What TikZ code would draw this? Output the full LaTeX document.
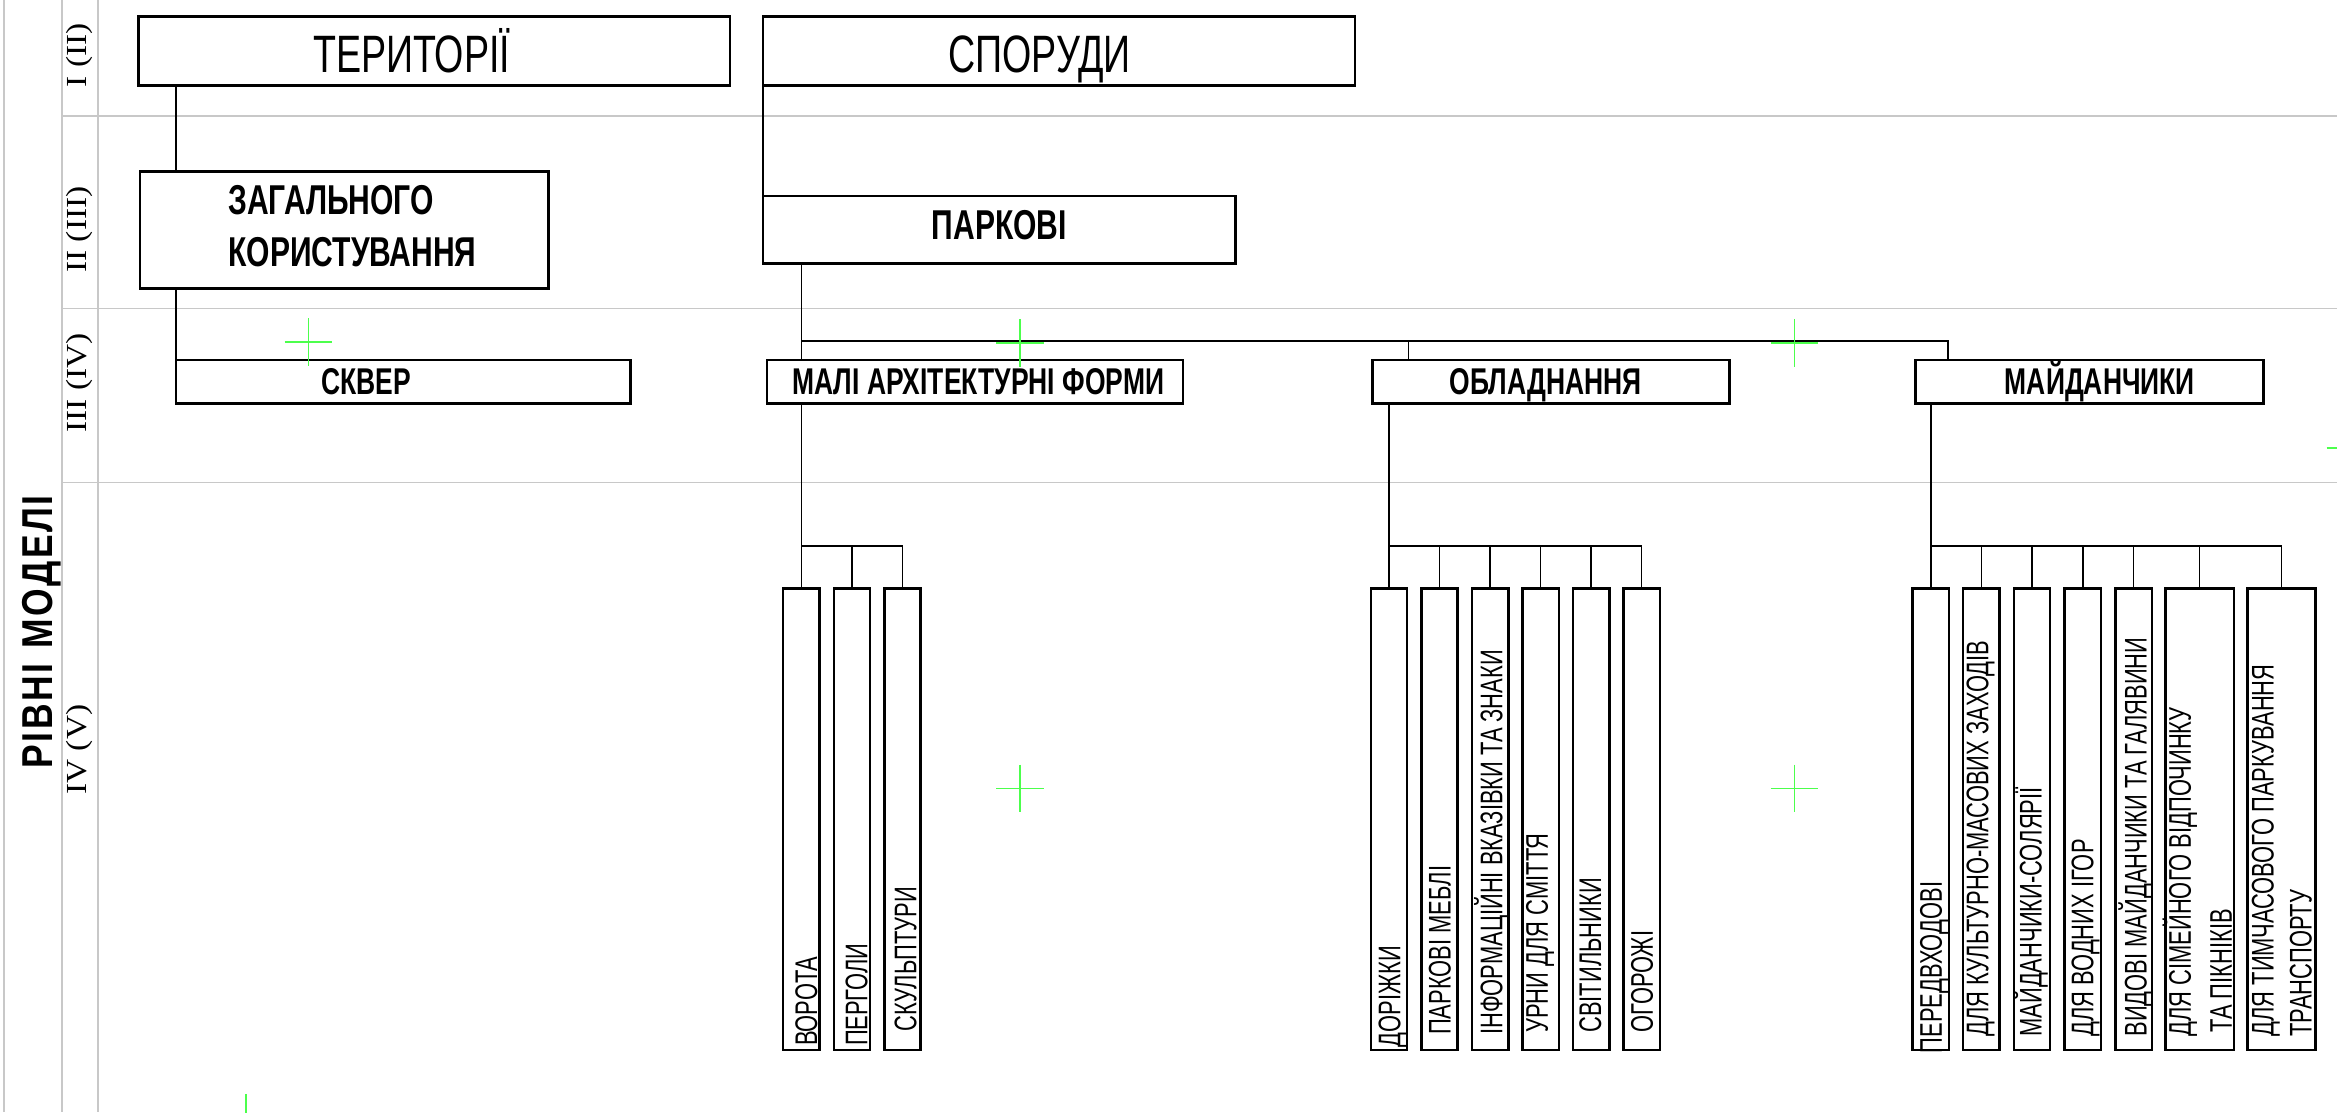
\documentclass[tikz,border=0pt]{standalone}
\usepackage{fontspec}
\setmainfont{Liberation Sans}
\newfontfamily\fTop[FakeStretch=0.715]{Liberation Sans}
\newfontfamily\fMid[FakeStretch=0.72]{Liberation Sans}
\newfontfamily\fLow[FakeStretch=0.71]{Liberation Sans}
\newfontfamily\fVer[FakeStretch=0.70]{Liberation Sans}
\newfontfamily\fSide[FakeStretch=0.82]{Liberation Sans}
\newfontfamily\fRom[FakeStretch=1.15]{Liberation Serif}
\definecolor{gridgray}{HTML}{C8C8C8}
\definecolor{crossgreen}{HTML}{4CFF4C}
\newcommand{\ls}{\hspace{1.7pt}}
\tikzset{
  boxs/.style={draw, line width=1.7pt, inner sep=0pt, outer sep=0pt, anchor=north west},
  vbox/.style={draw, line width=1.7pt, inner sep=0pt, outer sep=0pt, anchor=north, minimum height=309.8pt},
  conn/.style={line width=1.0pt},
  gridln/.style={draw=gridgray, line width=1.1pt},
  gcross/.style={draw=crossgreen, line width=1.2pt},
  toptxt/.style={anchor=base west, inner sep=0pt, font=\fTop\fontsize{35.3}{40}\selectfont},
  midtxt/.style={inner sep=0pt, font=\fMid\bfseries\fontsize{28}{32}\selectfont},
  lowtxt/.style={inner sep=0pt, font=\fLow\bfseries\fontsize{25}{30}\selectfont},
  vtxt/.style={rotate=90, anchor=base west, inner sep=0pt, font=\fVer\fontsize{21}{25}\selectfont},
  romtxt/.style={rotate=90, anchor=base, inner sep=0pt, font=\fRom\fontsize{19.5}{22}\selectfont},
}
\begin{document}
\begin{tikzpicture}[x=1pt,y=-1pt]
\useasboundingbox[fill=white] (0,0) rectangle (1568,746.1);
% grid
\draw[gridln] (2.7,0) -- (2.7,746.1);
\draw[gridln] (41.8,0) -- (41.8,746.1);
\draw[gridln] (65.8,0) -- (65.8,746.1);
\draw[gridln] (41.8,78) -- (1568,78);
\draw[gridln] (41.8,207) -- (1568,207);
\draw[gridln] (41.8,323.8) -- (1568,323.8);
% side labels
\node[rotate=90, anchor=base, inner sep=0pt, font=\fSide\bfseries\fontsize{29}{34}\selectfont] (side) at (35.5,424) {Р\ls І\ls В\ls Н\ls І\ls\ \ls М\ls О\ls Д\ls Е\ls Л\ls І};
\node[romtxt] (r1) at (58,37) {I (II)};
\node[romtxt] (r2) at (58,154) {II (III)};
\node[romtxt] (r3) at (58,257) {III (IV)};
\node[romtxt] (r4) at (58,503) {IV (V)};
% level I
\node[boxs, minimum width=396.8pt, minimum height=46.3pt] (ter) at (93,11.2) {};
\node[boxs, minimum width=397pt, minimum height=46.3pt] (spo) at (512,11.2) {};
\node[toptxt] (terT) at (210,48.5) {ТЕРИТОРІЇ};
\node[toptxt] (spoT) at (636,48.5) {СПОРУДИ};
% level II
\node[boxs, minimum width=274pt, minimum height=78.5pt] (zag) at (94,115) {};
\node[boxs, minimum width=317pt, minimum height=45.2pt] (par) at (512,131.5) {};
\node[midtxt, anchor=base west] (zagT1) at (153,144) {ЗАГАЛЬНОГО};
\node[midtxt, anchor=base west] (zagT2) at (153,179) {КОРИСТУВАННЯ};
\node[midtxt, anchor=base] (parT) at (670.5,161) {ПАРКОВІ};
% level III
\node[boxs, minimum width=305pt, minimum height=29pt] (skv) at (118,241.6) {};
\node[boxs, minimum width=279.2pt, minimum height=29pt] (maf) at (514.6,241.6) {};
\node[boxs, minimum width=239.5pt, minimum height=29pt] (obl) at (921,241.6) {};
\node[boxs, minimum width=233.5pt, minimum height=29pt] (mai) at (1285,241.6) {};
\node[lowtxt, anchor=base] (skvT) at (245.5,264.5) {СКВЕР};
\node[lowtxt, anchor=base west] (mafT) at (531.5,265) {МАЛІ АРХІТЕКТУРНІ ФОРМИ};
\node[lowtxt, anchor=base west] (oblT) at (972.6,265) {ОБЛАДНАННЯ};
\node[lowtxt, anchor=base west] (maiT) at (1345,265) {МАЙДАНЧИКИ};
% level IV boxes
\node[vbox, minimum width=24.3pt] (vA1) at (537.6,394.7) {};
\node[vbox, minimum width=24.3pt] (vA2) at (571.7,394.7) {};
\node[vbox, minimum width=24.3pt] (vA3) at (605.6,394.7) {};
\node[vbox, minimum width=24.3pt] (vB1) at (932,394.7) {};
\node[vbox, minimum width=24.3pt] (vB2) at (965.9,394.7) {};
\node[vbox, minimum width=24.3pt] (vB3) at (999.8,394.7) {};
\node[vbox, minimum width=24.3pt] (vB4) at (1033.7,394.7) {};
\node[vbox, minimum width=24.3pt] (vB5) at (1067.6,394.7) {};
\node[vbox, minimum width=24.3pt] (vB6) at (1101.5,394.7) {};
\node[vbox, minimum width=24.5pt] (vC1) at (1295.5,394.7) {};
\node[vbox, minimum width=24.3pt] (vC2) at (1329.3,394.7) {};
\node[vbox, minimum width=24.3pt] (vC3) at (1363.3,394.7) {};
\node[vbox, minimum width=24.3pt] (vC4) at (1397.4,394.7) {};
\node[vbox, minimum width=24.4pt] (vC5) at (1431.5,394.7) {};
\node[vbox, minimum width=45.9pt] (vC6) at (1475.8,394.7) {};
\node[vbox, minimum width=45.6pt] (vC7) at (1530.9,394.7) {};
% level IV texts
\node[vtxt] (tA1) at (548.2,702) {ВОРОТА};
\node[vtxt] (tA2) at (582,702) {ПЕРГОЛИ};
\node[vtxt] (tA3) at (614.8,692) {СКУЛЬПТУРИ};
\node[vtxt] (tB1) at (939.5,703) {ДОРІЖКИ};
\node[vtxt] (tB2) at (973.3,694.5) {ПАРКОВІ МЕБЛІ};
\node[vtxt] (tB3) at (1008,694.5) {ІНФОРМАЦІЙНІ ВКАЗІВКИ ТА ЗНАКИ};
\node[vtxt] (tB4) at (1038.5,693) {УРНИ ДЛЯ СМІТТЯ};
\node[vtxt] (tB5) at (1074.2,693) {СВІТИЛЬНИКИ};
\node[vtxt] (tB6) at (1108.9,693) {ОГОРОЖІ};
\node[vtxt] (tC1) at (1302.8,706.7) {ПЕРЕДВХОДОВІ};
\node[vtxt] (tC2) at (1334,695.6) {ДЛЯ КУЛЬТУРНО-МАСОВИХ ЗАХОДІВ};
\node[vtxt] (tC3) at (1369.8,695.6) {МАЙДАНЧИКИ-СОЛЯРІЇ};
\node[vtxt] (tC4) at (1404.5,695.6) {ДЛЯ ВОДНИХ ІГОР};
\node[vtxt] (tC5) at (1440.3,695.6) {ВИДОВІ МАЙДАНЧИКИ ТА ГАЛЯВИНИ};
\node[vtxt] (tC6a) at (1470,695.6) {ДЛЯ СІМЕЙНОГО ВІДПОЧИНКУ};
\node[vtxt] (tC6b) at (1497.4,693) {ТА ПІКНІКІВ};
\node[vtxt] (tC7a) at (1525.5,695.6) {ДЛЯ ТИМЧАСОВОГО ПАРКУВАННЯ};
\node[vtxt] (tC7b) at (1551,695.6) {ТРАНСПОРТУ};
% connectors
\coordinate (busY) at (0,228.8);
\coordinate (subY) at (0,366.2);
\coordinate (oblIn) at (945,228.8);
\coordinate (maiIn) at (1307,228.8);
\draw[conn] (skv.north west |- ter.south) -- (skv.north west |- zag.north);
\draw[conn] (skv.north west |- zag.south) -- (skv.north west);
\draw[conn] (spo.south west) -- (par.north west);
\draw[conn] (par.south -| vA1) -- (maf.north -| vA1);
\draw[conn] (busY -| vA1) -- (maiIn) -- (maiIn |- mai.north);
\draw[conn] (oblIn) -- (oblIn |- obl.north);
% MAF branch
\draw[conn] (maf.south -| vA1) -- (vA1.north);
\draw[conn] (subY -| vA1) -- (subY -| vA3);
\foreach \n in {vA2,vA3} \draw[conn] (subY -| \n) -- (\n.north);
% OBL branch
\draw[conn] (obl.south -| vB1) -- (vB1.north);
\draw[conn] (subY -| vB1) -- (subY -| vB6);
\foreach \n in {vB2,vB3,vB4,vB5,vB6} \draw[conn] (subY -| \n) -- (\n.north);
% MAI branch
\draw[conn] (mai.south -| vC1) -- (vC1.north);
\draw[conn] (subY -| vC1) -- (subY -| vC7);
\foreach \n in {vC2,vC3,vC4,vC5,vC6,vC7} \draw[conn] (subY -| \n) -- (\n.north);
% green marks
\foreach \cx/\cy in {207/229.5, 684.5/230, 1204/230, 684.5/529, 1204/529, 1577/300.7, 165/750}
  \draw[gcross] ({\cx-16},\cy) -- ({\cx+16},\cy) (\cx,{\cy-16}) -- (\cx,{\cy+16});
\end{tikzpicture}
\end{document}
